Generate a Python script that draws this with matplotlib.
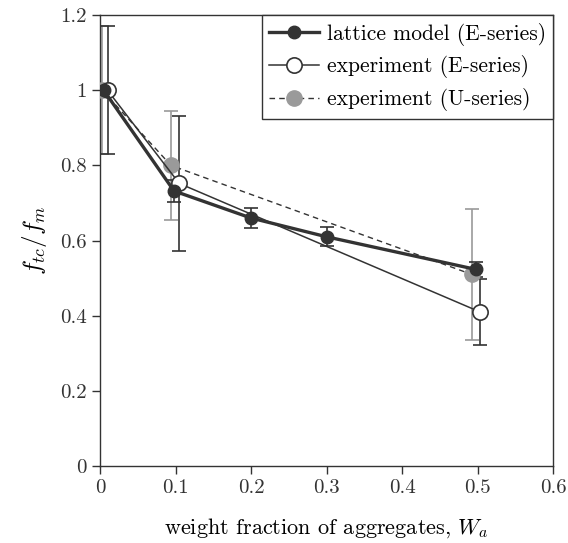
import numpy as np
import matplotlib
matplotlib.use('Agg')
import matplotlib.pyplot as plt
from matplotlib.ticker import FormatStrFormatter

plt.rcParams['font.family'] = 'cmr10'
plt.rcParams['mathtext.fontset'] = 'cm'
plt.rcParams['axes.formatter.use_mathtext'] = True

# lattice model (E-series)
x_lat = [0.005, 0.098, 0.2, 0.3, 0.498]
y_lat = [1.0, 0.732, 0.66, 0.61, 0.523]
e_lat = [0.0, 0.03, 0.027, 0.025, 0.02]

# experiment (E-series)
x_expE = [0.01, 0.105, 0.503]
y_expE = [1.0, 0.752, 0.41]
e_expE = [0.17, 0.18, 0.087]

# experiment (U-series)
x_expU = [0.003, 0.094, 0.492]
y_expU = [1.0, 0.80, 0.51]
e_expU = [0.17, 0.145, 0.175]

dark = '#333333'
grey = '#9a9a9a'

fig = plt.figure(figsize=(5.68, 5.43), dpi=100)
ax = fig.add_axes([0.176, 0.142, 0.798, 0.830])

# error bars
ax.errorbar(x_expU, y_expU, yerr=e_expU, fmt='none', ecolor=grey,
            elinewidth=1.2, capsize=5, capthick=1.2, zorder=1)
ax.errorbar(x_expE, y_expE, yerr=e_expE, fmt='none', ecolor=dark,
            elinewidth=1.2, capsize=5, capthick=1.2, zorder=2)
ax.errorbar(x_lat, y_lat, yerr=e_lat, fmt='none', ecolor=dark,
            elinewidth=1.2, capsize=5, capthick=1.2, zorder=3)

# lines and markers
l3, = ax.plot(x_expU, y_expU, color=dark, ls='--', dashes=(4, 3), lw=1.0,
              marker='o', ms=11, mfc=grey, mec=grey,
              label='experiment (U-series)', zorder=4)
l2, = ax.plot(x_expE, y_expE, color=dark, ls='-', lw=1.1,
              marker='o', ms=11, mfc='white', mec=dark, mew=1.2,
              label='experiment (E-series)', zorder=5)
l1, = ax.plot(x_lat, y_lat, color=dark, ls='-', lw=2.4,
              marker='o', ms=9, mfc=dark, mec=dark,
              label='lattice model (E-series)', zorder=6)

ax.set_xlim(0, 0.6)
ax.set_ylim(0, 1.2)
ax.set_xticks(np.arange(0, 0.61, 0.1))
ax.set_yticks(np.arange(0, 1.21, 0.2))
ax.xaxis.set_major_formatter(FormatStrFormatter('%g'))
ax.yaxis.set_major_formatter(FormatStrFormatter('%g'))
ax.tick_params(direction='out', length=6, width=1, labelsize=15, colors=dark)
for s in ax.spines.values():
    s.set_color(dark)
    s.set_linewidth(1.0)

ax.set_xlabel('weight fraction of aggregates, $W_a$', fontsize=16, labelpad=14)
ax.set_ylabel('$f_{tc}/f_m$', fontsize=18, labelpad=8)

leg = ax.legend([l1, l2, l3], [l1.get_label(), l2.get_label(), l3.get_label()],
                loc='upper right', fontsize=15.5, fancybox=False, edgecolor=dark,
                framealpha=1, handlelength=2.3, borderaxespad=0,
                handletextpad=0.37, labelspacing=0.45, borderpad=0.35)
leg.get_frame().set_linewidth(1.0)

fig.savefig('out.png', dpi=100)
